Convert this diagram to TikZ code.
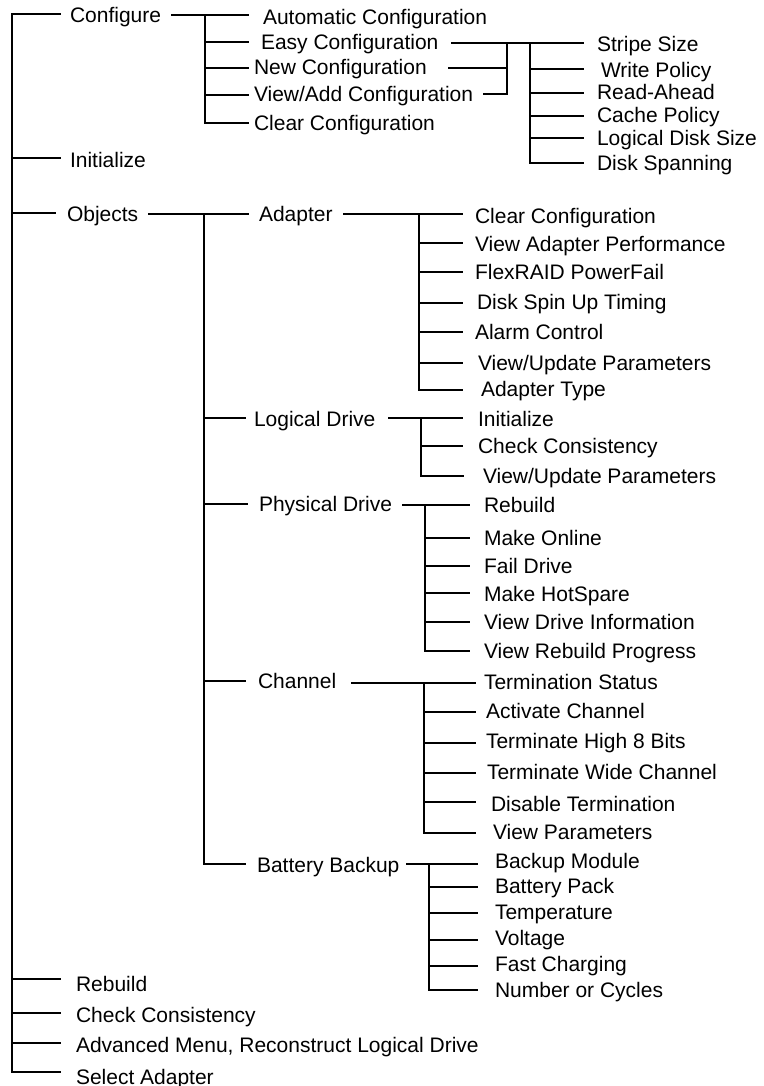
\documentclass[tikz,border=0pt]{standalone}
\usepackage{fontspec}
\setmainfont{Liberation Sans}
\usetikzlibrary{calc}
\newcommand\mkleaf[4]{\node[lbl] (#1) at (#2,#3) {#4};}
\newcommand\mkin[3]{\draw (#1) -- ($(#1 -| #2.west)+(-#3,0)$);}
\begin{document}
\begin{tikzpicture}[x=0.5pt,y=-0.5pt,line width=1pt,line cap=rect,
  lbl/.style={anchor=west,inner sep=0pt,text height=7.5pt,text depth=0pt,
    font=\fontsize{10.5}{12}\selectfont}]
\useasboundingbox (0,0) rectangle (764,1086);
% joints
\coordinate (m1) at (12,14);  \coordinate (m2) at (12,158); \coordinate (m3) at (12,213);
\coordinate (m4) at (12,979); \coordinate (m5) at (12,1013); \coordinate (m6) at (12,1043);
\coordinate (m7) at (12,1072);
\coordinate (c1) at (205,15); \coordinate (c2) at (205,42); \coordinate (c3) at (205,68);
\coordinate (c4) at (205,95); \coordinate (c5) at (205,123);
\coordinate (e1) at (507,43); \coordinate (e2) at (507,68); \coordinate (e3) at (507,94);
\coordinate (s1) at (530,43); \coordinate (s2) at (530,69); \coordinate (s3) at (530,93);
\coordinate (s4) at (530,116); \coordinate (s5) at (530,138); \coordinate (s6) at (530,163);
\coordinate (o1) at (204,214); \coordinate (o2) at (204,418); \coordinate (o3) at (204,504);
\coordinate (o4) at (204,681); \coordinate (o5) at (204,864);
\coordinate (a1) at (419,214); \coordinate (a2) at (419,243); \coordinate (a3) at (419,272);
\coordinate (a4) at (419,303); \coordinate (a5) at (419,332); \coordinate (a6) at (419,363);
\coordinate (a7) at (419,390);
\coordinate (l1) at (421,418); \coordinate (l2) at (421,446); \coordinate (l3) at (421,476);
\coordinate (p1) at (425,505); \coordinate (p2) at (425,538); \coordinate (p3) at (425,566);
\coordinate (p4) at (425,593); \coordinate (p5) at (425,622); \coordinate (p6) at (425,651);
\coordinate (h1) at (424,683); \coordinate (h2) at (424,712); \coordinate (h3) at (424,743);
\coordinate (h4) at (424,773); \coordinate (h5) at (424,802); \coordinate (h6) at (424,833);
\coordinate (b1) at (429,864); \coordinate (b2) at (429,887); \coordinate (b3) at (429,913);
\coordinate (b4) at (429,940); \coordinate (b5) at (429,966); \coordinate (b6) at (429,990);
% level 1
\mkleaf{conf}{69}{15}{Configure}
\mkleaf{init}{69}{159.5}{Initialize}
\mkleaf{obj}{66}{213.5}{Objects}
\mkleaf{rb}{75}{983.5}{Rebuild}
\mkleaf{cc}{75}{1014.5}{Check Consistency}
\mkleaf{adv}{75}{1044.5}{Advanced Menu, Reconstruct Logical Drive}
\mkleaf{sel}{75}{1076.5}{Select Adapter}
\draw (m1) -- (m7);
\mkin{m1}{conf}{9} \mkin{m2}{init}{9} \mkin{m3}{obj}{11}
\mkin{m4}{rb}{15} \mkin{m5}{cc}{15} \mkin{m6}{adv}{15} \mkin{m7}{sel}{15}
% configure
\mkleaf{acfg}{262}{17}{Automatic Configuration}
\mkleaf{easy}{260}{42.5}{Easy Configuration}
\mkleaf{newc}{253}{67.5}{New Configuration}
\mkleaf{vadd}{253}{94}{View/Add Configuration}
\mkleaf{clr}{253}{122.5}{Clear Configuration}
\draw ($(conf.east |- c1)+(10,0)$) -- (c1) -- ($(c1 -| acfg.west)+(-14,0)$);
\draw (c1) -- (c5);
\mkin{c2}{easy}{12} \mkin{c3}{newc}{5} \mkin{c4}{vadd}{5} \mkin{c5}{clr}{5}
% easy / new / view-add parameters
\mkleaf{ss}{596}{44.5}{Stripe Size}
\mkleaf{wp}{600}{70.5}{Write Policy}
\mkleaf{ra}{596}{92}{Read-Ahead}
\mkleaf{cp}{596}{115.5}{Cache Policy}
\mkleaf{lds}{596}{138.5}{Logical Disk Size}
\mkleaf{dsp}{596}{162.5}{Disk Spanning}
\draw ($(easy.east |- e1)+(13,0)$) -- (s1) -- ($(s1 -| ss.west)+(-13,0)$);
\draw ($(newc.east |- e2)+(21,0)$) -- (e2);
\draw ($(vadd.east |- e3)+(10,0)$) -- (e3);
\draw (e1) -- (e3);
\draw (s1) -- (s6);
\mkin{s2}{wp}{17} \mkin{s3}{ra}{13} \mkin{s4}{cp}{13} \mkin{s5}{lds}{13} \mkin{s6}{dsp}{13}
% objects
\mkleaf{adp}{258}{213.5}{Adapter}
\mkleaf{ld}{253}{418.5}{Logical Drive}
\mkleaf{pd}{258}{503.5}{Physical Drive}
\mkleaf{ch}{257}{680.5}{Channel}
\mkleaf{bb}{256}{864.5}{Battery Backup}
\draw ($(obj.east |- o1)+(10,0)$) -- (o1) -- ($(o1 -| adp.west)+(-10,0)$);
\draw (o1) -- (o5);
\mkin{o2}{ld}{8} \mkin{o3}{pd}{11} \mkin{o4}{ch}{12} \mkin{o5}{bb}{11}
% adapter
\mkleaf{ac1}{474}{215.5}{Clear Configuration}
\mkleaf{ac2}{474}{243.5}{View Adapter Performance}
\mkleaf{ac3}{474}{272}{FlexRAID PowerFail}
\mkleaf{ac4}{476}{302}{Disk Spin Up Timing}
\mkleaf{ac5}{474}{332}{Alarm Control}
\mkleaf{ac6}{477}{362.5}{View/Update Parameters}
\mkleaf{ac7}{480}{388.5}{Adapter Type}
\draw ($(adp.east |- a1)+(10,0)$) -- (a1) -- ($(a1 -| ac1.west)+(-12,0)$);
\draw (a1) -- (a7);
\mkin{a2}{ac2}{12} \mkin{a3}{ac3}{12} \mkin{a4}{ac4}{14} \mkin{a5}{ac5}{12}
\mkin{a6}{ac6}{15} \mkin{a7}{ac7}{18}
% logical drive
\mkleaf{li1}{477}{419}{Initialize}
\mkleaf{li2}{477}{446}{Check Consistency}
\mkleaf{li3}{482}{476}{View/Update Parameters}
\draw ($(ld.east |- l1)+(13,0)$) -- (l1) -- ($(l1 -| li1.west)+(-15,0)$);
\draw (l1) -- (l3);
\mkin{l2}{li2}{15} \mkin{l3}{li3}{19}
% physical drive
\mkleaf{pi1}{483}{505}{Rebuild}
\mkleaf{pi2}{483}{538}{Make Online}
\mkleaf{pi3}{483}{565.5}{Fail Drive}
\mkleaf{pi4}{483}{594}{Make HotSpare}
\mkleaf{pi5}{483}{622}{View Drive Information}
\mkleaf{pi6}{483}{651}{View Rebuild Progress}
\draw ($(pd.east |- p1)+(10,0)$) -- (p1) -- ($(p1 -| pi1.west)+(-14,0)$);
\draw (p1) -- (p6);
\mkin{p2}{pi2}{14} \mkin{p3}{pi3}{14} \mkin{p4}{pi4}{14} \mkin{p5}{pi5}{14} \mkin{p6}{pi6}{14}
% channel
\mkleaf{hi1}{483}{682}{Termination Status}
\mkleaf{hi2}{485}{710.5}{Activate Channel}
\mkleaf{hi3}{485}{741}{Terminate High 8 Bits}
\mkleaf{hi4}{486}{771.5}{Terminate Wide Channel}
\mkleaf{hi5}{490}{803.5}{Disable Termination}
\mkleaf{hi6}{492}{831.5}{View Parameters}
\draw ($(ch.east |- h1)+(15,0)$) -- (h1) -- ($(h1 -| hi1.west)+(-8,0)$);
\draw (h1) -- (h6);
\mkin{h2}{hi2}{10} \mkin{h3}{hi3}{10} \mkin{h4}{hi4}{11} \mkin{h5}{hi5}{15} \mkin{h6}{hi6}{17}
% battery backup
\mkleaf{bi1}{494}{860.5}{Backup Module}
\mkleaf{bi2}{494}{885.5}{Battery Pack}
\mkleaf{bi3}{494}{911.5}{Temperature}
\mkleaf{bi4}{494}{937.5}{Voltage}
\mkleaf{bi5}{494}{964}{Fast Charging}
\mkleaf{bi6}{494}{989.5}{Number or Cycles}
\draw ($(bb.east |- b1)+(7,0)$) -- (b1) -- ($(b1 -| bi1.west)+(-17,0)$);
\draw (b1) -- (b6);
\mkin{b2}{bi2}{17} \mkin{b3}{bi3}{17} \mkin{b4}{bi4}{17} \mkin{b5}{bi5}{17} \mkin{b6}{bi6}{17}
\end{tikzpicture}
\end{document}
